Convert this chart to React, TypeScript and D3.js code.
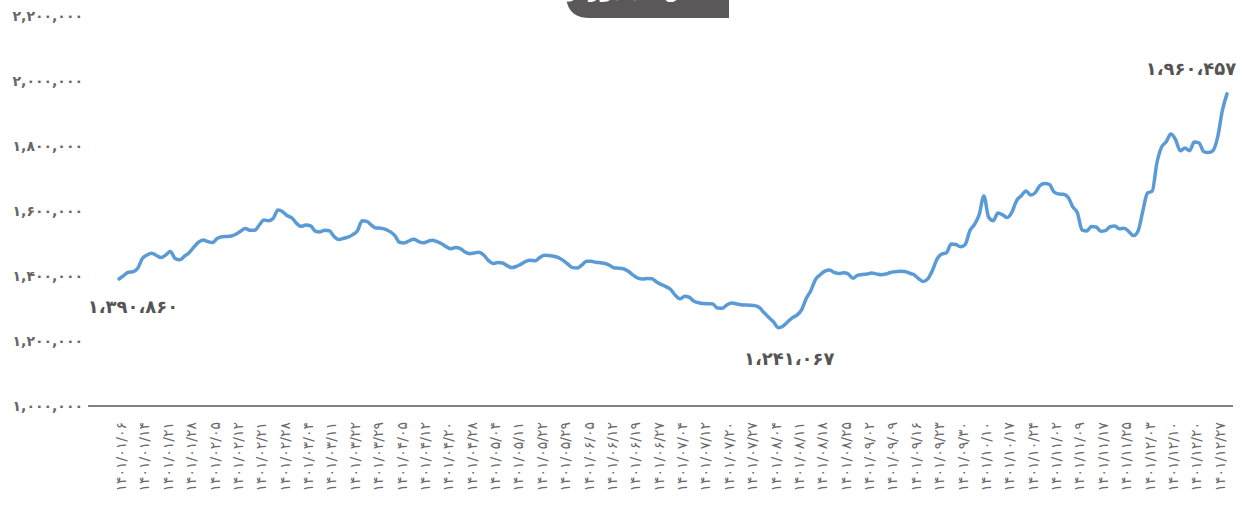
import React from "react";
import * as d3 from "d3";

const values: number[] = [
  1390860, 1401200, 1411700, 1413100, 1423700, 1453800, 1464600, 1469800, 1463100, 1456600,
  1464600, 1475400, 1453800, 1449800, 1460900, 1471700, 1488900, 1503800, 1510500, 1505800,
  1502800, 1515400, 1520600, 1521500, 1522800, 1528600, 1537500, 1546200, 1540900, 1540600,
  1556600, 1572300, 1570100, 1577800, 1603000, 1598000, 1585200, 1578500, 1561500, 1552900,
  1557200, 1554200, 1537800, 1535700, 1540900, 1539400, 1521500, 1512000, 1515700, 1519400,
  1527400, 1538800, 1570100, 1568000, 1556300, 1547700, 1547000, 1543700, 1536600, 1524300,
  1503700, 1501500, 1507700, 1513200, 1506800, 1502200, 1506100, 1510100, 1505500, 1499100,
  1490200, 1483700, 1487400, 1484300, 1474100, 1468600, 1470800, 1473200, 1464600, 1448000,
  1438200, 1441500, 1440000, 1432000, 1425800, 1429500, 1436600, 1444900, 1448300, 1446800,
  1456600, 1464000, 1462800, 1460900, 1456600, 1448000, 1436900, 1425800, 1424600, 1433800,
  1445500, 1445200, 1442100, 1440600, 1438500, 1432300, 1424600, 1424000, 1421500, 1413800,
  1402800, 1393200, 1390800, 1392300, 1391700, 1381200, 1373800, 1367400, 1358500, 1340600,
  1329800, 1337500, 1334200, 1322100, 1317800, 1315400, 1314500, 1313800, 1301500, 1301000,
  1310800, 1316900, 1314800, 1311700, 1310800, 1310200, 1308900, 1302500, 1286800, 1272300,
  1258800, 1241067, 1245500, 1258500, 1271400, 1279700, 1296000, 1330500, 1355700, 1389500,
  1404000, 1415100, 1418800, 1410800, 1407400, 1410100, 1406200, 1392900, 1402500, 1404600,
  1406200, 1408900, 1406500, 1403700, 1406000, 1410800, 1413200, 1414500, 1413800, 1409200,
  1404300, 1392300, 1383100, 1391400, 1417800, 1452900, 1467400, 1471700, 1498500, 1496900,
  1489800, 1497200, 1539400, 1558800, 1589200, 1646100, 1581500, 1569800, 1593800, 1588000,
  1579700, 1596900, 1632300, 1646800, 1661800, 1649200, 1656600, 1678500, 1684600, 1682100,
  1658500, 1652300, 1651400, 1642500, 1612900, 1594200, 1541200, 1538500, 1552300, 1550800,
  1538000, 1539700, 1551700, 1553800, 1545200, 1547100, 1536900, 1524300, 1539400, 1600600,
  1655400, 1660900, 1747700, 1796600, 1812900, 1836900, 1819700, 1785200, 1793800, 1785500,
  1812000, 1809800, 1783100, 1779700, 1785800, 1827100, 1908900, 1960457,
];

const dateLabels: string[] = [
  "1401/01/06", "1401/01/14", "1401/01/21", "1401/01/28", "1401/02/05", "1401/02/12",
  "1401/02/21", "1401/02/28", "1401/03/04", "1401/03/11", "1401/03/22", "1401/03/29",
  "1401/04/05", "1401/04/12", "1401/04/20", "1401/04/28", "1401/05/04", "1401/05/11",
  "1401/05/22", "1401/05/29", "1401/06/05", "1401/06/12", "1401/06/19", "1401/06/27",
  "1401/07/04", "1401/07/12", "1401/07/20", "1401/07/27", "1401/08/04", "1401/08/11",
  "1401/08/18", "1401/08/25", "1401/09/02", "1401/09/09", "1401/09/16", "1401/09/23",
  "1401/09/30", "1401/10/10", "1401/10/17", "1401/10/24", "1401/11/02", "1401/11/09",
  "1401/11/17", "1401/11/25", "1401/12/03", "1401/12/10", "1401/12/20", "1401/12/27",
];
const labelEvery = 5;

const yTicks: number[] = [1000000, 1200000, 1400000, 1600000, 1800000, 2000000, 2200000];

const titleText = "شاخص کل بورس";

const faDigits = "۰۱۲۳۴۵۶۷۸۹";
const toFa = (s: string) => s.replace(/[0-9]/g, (d) => faDigits[+d]);
const fmtTick = (v: number) => toFa(d3.format(",")(v));
const fmtAnn = (v: number) => toFa(d3.format(",")(v)).replace(/,/g, "،");

const W = 1245;
const H = 516;
const FONT = "'DejaVu Sans', sans-serif";

export default function App() {
  const idx = values.map((_, i) => i);
  const x = d3.scalePoint<number>().domain(idx).range([119, 1227]);
  const y = d3.scaleLinear().domain([1000000, 2200000]).range([406, 16]);
  const line = d3
    .line<number>()
    .x((_, i) => x(i) as number)
    .y((d) => y(d))
    .curve(d3.curveMonotoneX);

  const first = 0;
  const last = values.length - 1;
  const minI = values.indexOf(d3.min(values) as number);

  return (
    <svg
      width={W}
      height={H}
      style={{ position: "absolute", left: 0, top: 0, background: "#fff" }}
    >
      {/* title box (mostly cut off at top) */}
      <path d={`M566,-10 L729,-10 L729,18 L590,18 Q566,18 566,-6 Z`} fill="#5a5858" />
      <text
        x={647}
        y={-3}
        textAnchor="middle"
        fill="#fff"
        fontFamily={FONT}
        fontSize={20}
        fontWeight="bold"
        direction="rtl"
      >
        {titleText}
      </text>

      {/* y tick labels */}
      {yTicks.map((t) => (
        <text
          key={t}
          x={83}
          y={y(t)}
          dy="0.35em"
          textAnchor="end"
          fill="#666"
          fontFamily={FONT}
          fontSize={14}
          fontWeight="bold"
          letterSpacing={1.6}
        >
          {fmtTick(t)}
        </text>
      ))}

      {/* x axis line */}
      <line x1={88} x2={1233} y1={y(1000000)} y2={y(1000000)} stroke="#5a5a5a" strokeWidth={1.5} />

      {/* x labels */}
      {dateLabels.map((lab, k) => {
        const xi = x(k * labelEvery) as number;
        return (
          <text
            key={lab}
            transform={`translate(${xi + 2},422) rotate(-90)`}
            textAnchor="end"
            dominantBaseline="central"
            fill="#6a6a6a"
            fontFamily={FONT}
            fontSize={14}
            letterSpacing={3.2}
          >
            {toFa(lab)}
          </text>
        );
      })}

      {/* line */}
      <path d={line(values) || ""} fill="none" stroke="#5b9bd5" strokeWidth={3.5} strokeLinejoin="round" strokeLinecap="round" />

      {/* annotations */}
      <text x={(x(first) as number) + 14} y={313} textAnchor="middle" fill="#555" fontFamily={FONT} fontSize={18} fontWeight="bold">
        {fmtAnn(values[first])}
      </text>
      <text x={(x(minI) as number) + 11} y={365} textAnchor="middle" fill="#555" fontFamily={FONT} fontSize={18} fontWeight="bold">
        {fmtAnn(values[minI])}
      </text>
      <text x={(x(last) as number) - 36} y={75} textAnchor="middle" fill="#555" fontFamily={FONT} fontSize={18} fontWeight="bold">
        {fmtAnn(values[last])}
      </text>
    </svg>
  );
}
